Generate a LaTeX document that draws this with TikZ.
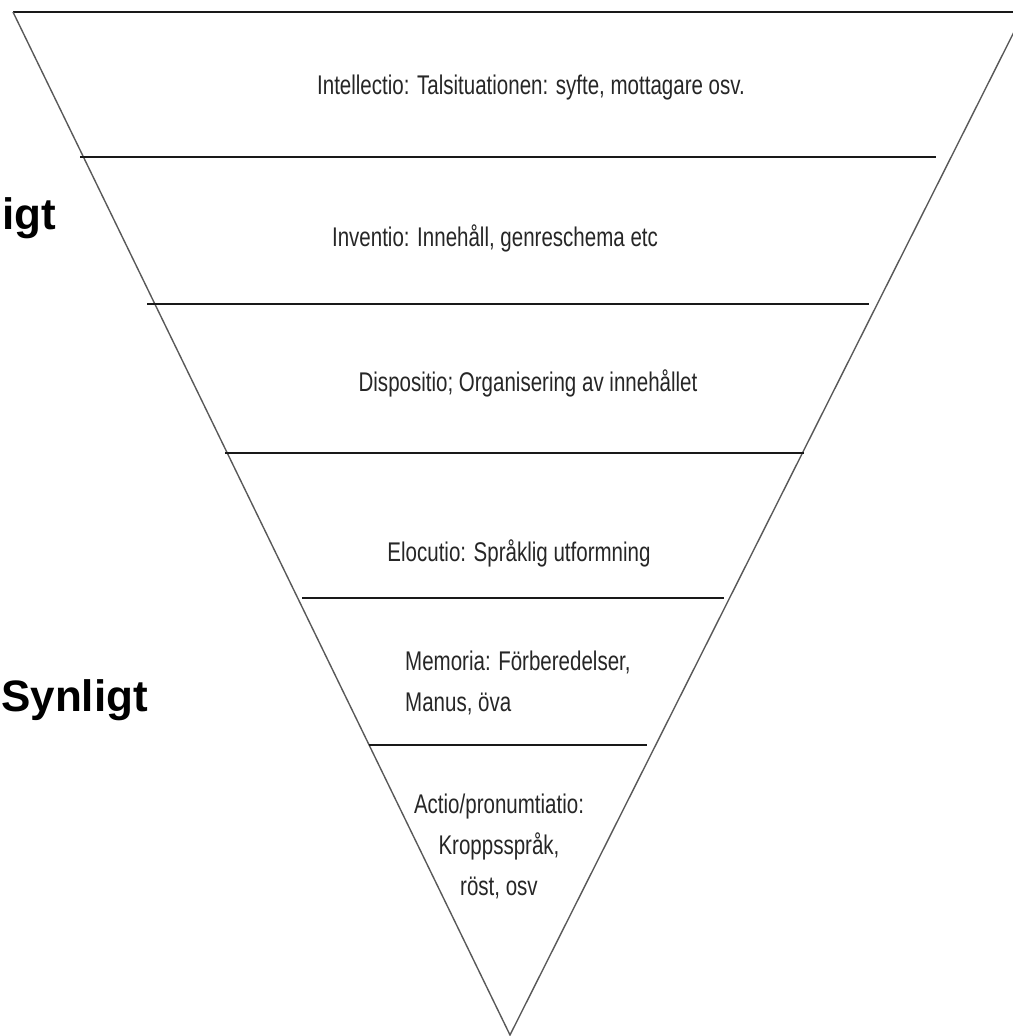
\documentclass[tikz,border=0pt]{standalone}
\usepackage{fontspec}
\usepackage{tikz}
\newfontfamily\narrowfont[FakeStretch=0.76]{Liberation Sans}
\newfontfamily\headfont{Liberation Sans}

\begin{document}
\begin{tikzpicture}[x=1pt,y=-1pt,
    edge/.style={line width=1.4pt,color=black!65},
    band/.style={line width=2pt,color=black!90},
    steplabel/.style={font=\narrowfont\fontsize{27}{41}\selectfont,color=black!85,inner sep=0pt,align=center},
    sidelabel/.style={font=\headfont\bfseries\fontsize{44}{54}\selectfont,inner sep=0pt}]
\useasboundingbox (0,0) rectangle (1012,1036);

% the funnel
\coordinate (tl) at (13,12);
\coordinate (tr) at (1024,12);
\coordinate (tip) at (510,1035);
\draw[band] (tl) -- (tr);
\draw[edge] (tl) -- (tip) -- (tr);

% dividers
\coordinate (a1) at (80,157);  \coordinate (b1) at (936,157);
\coordinate (a2) at (147,304); \coordinate (b2) at (869,304);
\coordinate (a3) at (225,453); \coordinate (b3) at (804,453);
\coordinate (a4) at (302,598); \coordinate (b4) at (724,598);
\coordinate (a5) at (369,745); \coordinate (b5) at (647,745);
\foreach \i in {1,...,5}
    \draw[band] (a\i) -- (b\i);

% steps
\node[steplabel] (intellectio) at (531,88) {Intellectio: Talsituationen: syfte, mottagare osv.};
\node[steplabel] (inventio) at (495,238) {Inventio: Innehåll, genreschema etc};
\node[steplabel] (dispositio) at (528,383) {Dispositio; Organisering av innehållet};
\node[steplabel] (elocutio) at (519,553) {Elocutio: Språklig utformning};
\node[steplabel,align=left,anchor=west] (memoria) at (405,683) {Memoria: Förberedelser,\\Manus, öva};
\node[steplabel] (actio) at (499,846) {Actio/pronumtiatio:\\Kroppsspråk,\\röst, osv};

% sides
\node[sidelabel,anchor=base east] (osynligt) at (56,229) {igt};
\node[sidelabel,anchor=base west] (synligt) at (1,711) {Synligt};
\end{tikzpicture}
\end{document}
